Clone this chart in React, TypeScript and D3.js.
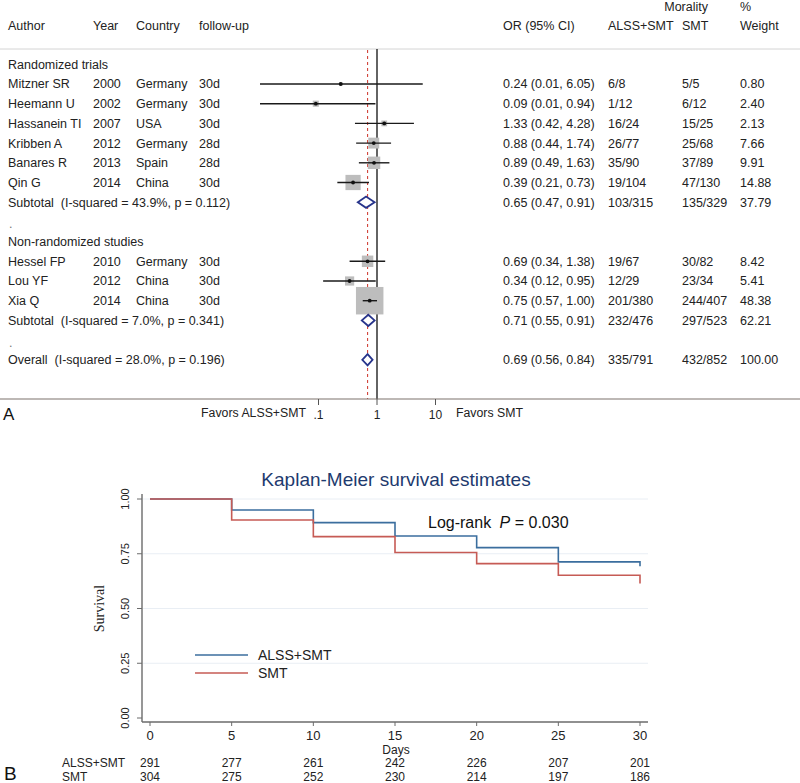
import React, { useEffect } from "react";
import * as d3 from "d3";

// ---------- Forest plot data ----------
const authors = ["Mitzner SR", "Heemann U", "Hassanein TI", "Kribben A", "Banares R", "Qin G", "Hessel FP", "Lou YF", "Xia Q"];
const years = ["2000", "2002", "2007", "2012", "2013", "2014", "2010", "2012", "2014"];
const countries = ["Germany", "Germany", "USA", "Germany", "Spain", "China", "Germany", "China", "China"];
const followUps = ["30d", "30d", "30d", "28d", "28d", "30d", "30d", "30d", "30d"];
const orValues = [0.24, 0.09, 1.33, 0.88, 0.89, 0.39, 0.69, 0.34, 0.75];
const ciLow = [0.01, 0.01, 0.42, 0.44, 0.49, 0.21, 0.34, 0.12, 0.57];
const ciHigh = [6.05, 0.94, 4.28, 1.74, 1.63, 0.73, 1.38, 0.95, 1.0];
const eventsALSS = ["6/8", "1/12", "16/24", "26/77", "35/90", "19/104", "19/67", "12/29", "201/380"];
const eventsSMT = ["5/5", "6/12", "15/25", "25/68", "37/89", "47/130", "30/82", "23/34", "244/407"];
const weights = [0.8, 2.4, 2.13, 7.66, 9.91, 14.88, 8.42, 5.41, 48.38];
const studyRows = [1, 2, 3, 4, 5, 6, 10, 11, 12];

const groupNames = ["Randomized trials", "Non-randomized studies"];
const groupRows = [0, 9];
const blankRows = [8, 14];

const summaryLabels = [
  "Subtotal  (I-squared = 43.9%, p = 0.112)",
  "Subtotal  (I-squared = 7.0%, p = 0.341)",
  "Overall  (I-squared = 28.0%, p = 0.196)",
];
const summaryOR = [0.65, 0.71, 0.69];
const summaryLow = [0.47, 0.55, 0.56];
const summaryHigh = [0.91, 0.91, 0.84];
const summaryALSS = ["103/315", "232/476", "335/791"];
const summarySMT = ["135/329", "297/523", "432/852"];
const summaryWeights = [37.79, 62.21, 100.0];
const summaryRows = [7, 13, 15];

const forestTicks = [0.1, 1, 10];
const forestTickLabels = [".1", "1", "10"];

// ---------- Kaplan-Meier data ----------
const kmDays = [0, 5, 10, 15, 20, 25, 30];
const survALSS = [1.0, 0.95, 0.892, 0.831, 0.778, 0.713, 0.693];
const survSMT = [1.0, 0.904, 0.828, 0.756, 0.705, 0.652, 0.614];
const atRiskALSS = [291, 277, 261, 242, 226, 207, 201];
const atRiskSMT = [304, 275, 252, 230, 214, 197, 186];
const kmYTicks = [0, 0.25, 0.5, 0.75, 1.0];
const kmXTicks = [0, 5, 10, 15, 20, 25, 30];

const SANS = "'Liberation Sans', Arial, Helvetica, sans-serif";
const SERIF = "'Liberation Serif', 'Times New Roman', serif";

export default function App() {
  useEffect(() => {
    document.body.style.margin = "0";
  }, []);

  // forest layout
  const rowY = (i: number) => 64.3 + i * 19.7;
  const fx = d3.scaleLog().domain([0.1, 10]).range([318.5, 435.5]);
  const fs = 12.5;
  const txt = (x: number, y: number, s: string, extra: any = {}) => (
    <text
      x={x}
      y={y + 4.4}
      fontSize={fs}
      fill="#222"
      fontFamily={SANS}
      style={{ whiteSpace: "pre" }}
      {...extra}
    >
      {s}
    </text>
  );
  const colYear = 93, colCountry = 136, colFU = 199, colOR = 503, colA = 608, colS = 682, colW = 740;
  const axisY = 399;

  // KM layout
  const kx = d3.scaleLinear().domain([0, 30]).range([150, 640]);
  const ky = d3.scaleLinear().domain([0, 1]).range([718, 499]);
  const step = d3
    .line<number>()
    .x((_, i) => kx(kmDays[i]))
    .y((d) => ky(d))
    .curve(d3.curveStepAfter);
  const blue = "#3b6e9e";
  const red = "#c65b55";

  return (
    <svg width={800} height={783} style={{ position: "absolute", left: 0, top: 0, background: "#fff" }}>
      <rect x={0} y={0} width={800} height={783} fill="#fff" />
      {/* ---------------- Panel A ---------------- */}
      {txt(8, 25.7, "Author")}
      {txt(colYear, 25.7, "Year")}
      {txt(colCountry, 25.7, "Country")}
      {txt(colFU, 25.7, "follow-up")}
      {txt(colOR, 25.7, "OR (95% CI)")}
      {txt(colA, 25.7, "ALSS+SMT")}
      {txt(colS, 25.7, "SMT")}
      {txt(708, 6.7, "Morality", { textAnchor: "end" })}
      {txt(colW, 6.2, "%")}
      {txt(colW, 25.7, "Weight")}
      <line x1={0} x2={800} y1={49} y2={49} stroke="#d4d4d4" strokeWidth={1} />

      {/* reference lines */}
      <line x1={fx(1)} x2={fx(1)} y1={49} y2={axisY} stroke="#222" strokeWidth={1.4} />
      <line
        x1={fx(summaryOR[2])}
        x2={fx(summaryOR[2])}
        y1={50}
        y2={axisY}
        stroke="#d2453a"
        strokeWidth={1.1}
        strokeDasharray="3,3"
      />

      {groupNames.map((g, i) => (
        <g key={g}>{txt(8, rowY(groupRows[i]), g)}</g>
      ))}
      {blankRows.map((r) => (
        <g key={r}>{txt(9, rowY(r) + 2, ".", { fill: "#777" })}</g>
      ))}

      {authors.map((a, i) => {
        const y = rowY(studyRows[i]);
        const side = 3.95 * Math.sqrt(weights[i]);
        return (
          <g key={a}>
            {txt(8, y, a)}
            {txt(colYear, y, years[i])}
            {txt(colCountry, y, countries[i])}
            {txt(colFU, y, followUps[i])}
            {txt(colOR, y, `${orValues[i].toFixed(2)} (${ciLow[i].toFixed(2)}, ${ciHigh[i].toFixed(2)})`)}
            {txt(colA, y, eventsALSS[i])}
            {txt(colS, y, eventsSMT[i])}
            {txt(colW, y, weights[i].toFixed(2))}
            <rect x={fx(orValues[i]) - side / 2} y={y - side / 2} width={side} height={side} fill="#bdbdbd" />
            <line x1={fx(ciLow[i])} x2={fx(ciHigh[i])} y1={y} y2={y} stroke="#1a1a1a" strokeWidth={1.4} />
            <circle cx={fx(orValues[i])} cy={y} r={1.9} fill="#111" />
          </g>
        );
      })}

      {summaryLabels.map((s, i) => {
        const y = rowY(summaryRows[i]);
        const h = 5.6;
        const pts = [
          [fx(summaryLow[i]), y],
          [fx(summaryOR[i]), y - h],
          [fx(summaryHigh[i]), y],
          [fx(summaryOR[i]), y + h],
        ];
        return (
          <g key={s}>
            {txt(8, y, s)}
            {txt(colOR, y, `${summaryOR[i].toFixed(2)} (${summaryLow[i].toFixed(2)}, ${summaryHigh[i].toFixed(2)})`)}
            {txt(colA, y, summaryALSS[i])}
            {txt(colS, y, summarySMT[i])}
            {txt(colW, y, summaryWeights[i].toFixed(2))}
            <polygon points={pts.map((p) => p.join(",")).join(" ")} fill="#fff" stroke="#27348b" strokeWidth={1.8} />
          </g>
        );
      })}

      <line x1={0} x2={800} y1={axisY} y2={axisY} stroke="#7d726c" strokeWidth={1.2} />
      {forestTicks.map((t, i) => (
        <g key={t}>
          <line x1={fx(t)} x2={fx(t)} y1={axisY} y2={axisY + 6} stroke="#555" strokeWidth={1} />
          <text x={fx(t)} y={419} fontSize={12} textAnchor="middle" fill="#222" fontFamily={SANS}>
            {forestTickLabels[i]}
          </text>
        </g>
      ))}
      <text x={306} y={417} fontSize={12.3} textAnchor="end" fill="#222" fontFamily={SANS}>
        Favors ALSS+SMT
      </text>
      <text x={456} y={417} fontSize={12.3} fill="#222" fontFamily={SANS}>
        Favors SMT
      </text>
      <text x={3} y={420} fontSize={17} fill="#111" fontFamily={SANS}>
        A
      </text>

      {/* ---------------- Panel B ---------------- */}
      <text x={396} y={486} fontSize={19} textAnchor="middle" fill="#1e3a6e" fontFamily={SANS}>
        Kaplan-Meier survival estimates
      </text>
      {kmYTicks.slice(1).map((t) => (
        <line key={t} x1={143} x2={648} y1={ky(t)} y2={ky(t)} stroke="#e9eef4" strokeWidth={1} />
      ))}
      <line x1={142} x2={142} y1={494} y2={722} stroke="#6b6b6b" strokeWidth={1.4} />
      <line x1={142} x2={648} y1={722} y2={722} stroke="#6b6b6b" strokeWidth={1.4} />
      {kmYTicks.map((t) => (
        <g key={t}>
          <line x1={137} x2={142} y1={ky(t)} y2={ky(t)} stroke="#6b6b6b" strokeWidth={1} />
          <text
            transform={`translate(129,${ky(t)}) rotate(-90)`}
            fontSize={11}
            textAnchor="middle"
            fill="#222"
            fontFamily={SANS}
          >
            {t.toFixed(2)}
          </text>
        </g>
      ))}
      {kmXTicks.map((t) => (
        <g key={t}>
          <line x1={kx(t)} x2={kx(t)} y1={722} y2={726} stroke="#6b6b6b" strokeWidth={1} />
          <text x={kx(t)} y={740} fontSize={13} textAnchor="middle" fill="#222" fontFamily={SANS}>
            {t}
          </text>
        </g>
      ))}
      <text x={396} y={754} fontSize={12} textAnchor="middle" fill="#222" fontFamily={SANS}>
        Days
      </text>
      <text
        transform={`translate(104,${ky(0.5)}) rotate(-90)`}
        fontSize={14}
        textAnchor="middle"
        fill="#222"
        fontFamily={SERIF}
      >
        Survival
      </text>

      <path d={step(survALSS) || ""} fill="none" stroke={blue} strokeWidth={1.6} />
      <path d={step(survSMT) || ""} fill="none" stroke={red} strokeWidth={1.6} />

      <text x={428} y={528} fontSize={16} fill="#111" fontFamily={SANS}>
        Log-rank <tspan fontStyle="italic" dx={4}>P</tspan> = 0.030
      </text>

      <line x1={195} x2={248} y1={655} y2={655} stroke={blue} strokeWidth={1.6} />
      <text x={258} y={660} fontSize={14} fill="#222" fontFamily={SANS}>
        ALSS+SMT
      </text>
      <line x1={195} x2={248} y1={673} y2={673} stroke={red} strokeWidth={1.6} />
      <text x={258} y={678} fontSize={14} fill="#222" fontFamily={SANS}>
        SMT
      </text>

      <text x={62} y={767} fontSize={12} fill="#222" fontFamily={SANS}>
        ALSS+SMT
      </text>
      <text x={62} y={781} fontSize={12} fill="#222" fontFamily={SANS}>
        SMT
      </text>
      {kmDays.map((d, i) => (
        <g key={d}>
          <text x={kx(d)} y={767} fontSize={12} textAnchor="middle" fill="#222" fontFamily={SANS}>
            {atRiskALSS[i]}
          </text>
          <text x={kx(d)} y={781} fontSize={12} textAnchor="middle" fill="#222" fontFamily={SANS}>
            {atRiskSMT[i]}
          </text>
        </g>
      ))}
      <text x={4} y={780} fontSize={19} fill="#111" fontFamily={SANS}>
        B
      </text>
    </svg>
  );
}
